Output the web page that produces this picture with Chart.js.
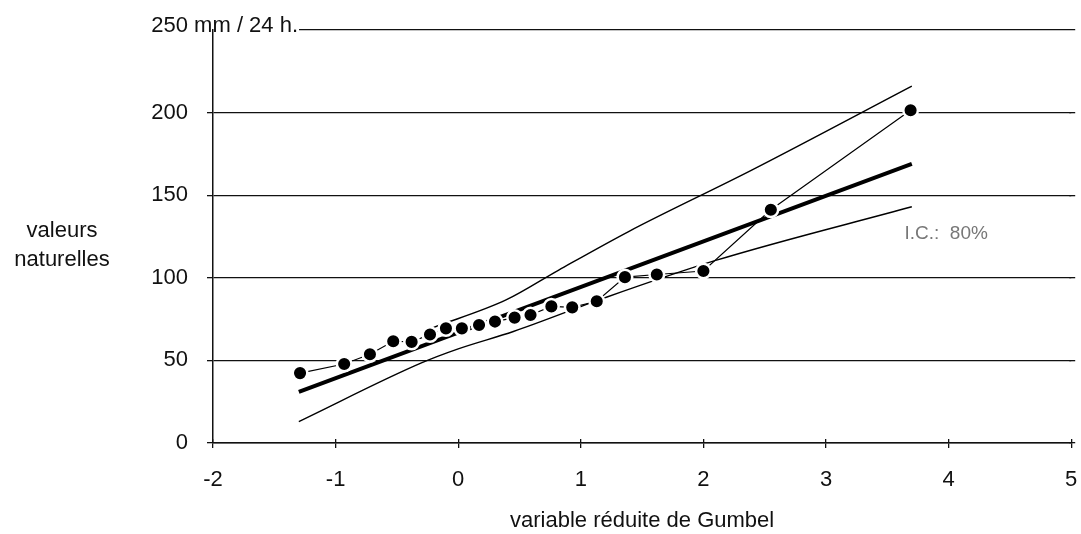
<!DOCTYPE html>
<html>
<head>
<meta charset="utf-8">
<script src="https://cdn.jsdelivr.net/npm/chart.js@4/dist/chart.umd.min.js"></script>
<style>
  html, body { margin: 0; padding: 0; background: #fff; }
  #wrap { width: 1081px; height: 534px; position: relative; }
</style>
</head>
<body>
<div id="wrap"><canvas id="c" width="1081" height="534"></canvas></div>
<script>
// --- Data ---
const gumbelX = [-1.29, -0.93, -0.72, -0.53, -0.38, -0.23, -0.10, 0.03, 0.17, 0.30,
                 0.46, 0.59, 0.76, 0.93, 1.13, 1.36, 1.62, 2.00, 2.55, 3.69];
const pluieY  = [42.3, 47.8, 53.7, 61.6, 61.2, 65.7, 69.4, 69.4, 71.4, 73.5,
                 75.9, 77.5, 82.7, 82.1, 85.8, 100.4, 102.0, 104.1, 141.2, 201.4];

const ajustX = [-1.3, 3.7];
const ajustY = [31, 169];

const icSupX = [-0.2, 0.39, 0.82, 1.39, 2.39, 3.7];
const icSupY = [70, 86.6, 104.7, 128, 165, 216];

const icInfX = [-1.3, -0.3, 0.0, 0.45, 1.2, 2.1, 3.7];
const icInfY = [13, 48.5, 57, 67.5, 88, 110.5, 143];

const xTicks = [-2, -1, 0, 1, 2, 3, 4, 5];
const yTicks = [0, 50, 100, 150, 200, 250];

const yTopLabel = '250 mm / 24 h.';
const yTitleLines = ['valeurs', 'naturelles'];
const xTitle = 'variable réduite de Gumbel';
const icLabel = 'I.C.:  80%';
const icLabelPos = { x: 3.64, y: 126.5 };

const pts = (xs, ys) => xs.map((x, i) => ({ x: x, y: ys[i] }));

const FONT = "'Liberation Sans', Arial, Helvetica, sans-serif";
Chart.defaults.font.family = FONT;
Chart.defaults.font.size = 22;
Chart.defaults.color = '#111';

const GRID_W = 1.3;
const alignPx = (p, w) => Math.round(p - w / 2) + w / 2;

const decor = {
  id: 'decor',
  afterDraw(chart) {
    const ctx = chart.ctx;
    const ys = chart.scales.y, xs = chart.scales.x;
    const ca = chart.chartArea;
    ctx.save();
    // y-axis title (horizontal, two lines)
    ctx.font = '22px ' + FONT;
    ctx.fillStyle = '#111';
    ctx.textAlign = 'center';
    ctx.textBaseline = 'middle';
    ctx.fillText(yTitleLines[0], 62, 231);
    ctx.fillText(yTitleLines[1], 62, 260);
    // top label replacing the 250 tick + its grid line
    const labelRight = ys.right - 6 - 19;
    const w200 = ctx.measureText('200').width;
    const lx = labelRight - w200;
    const py = ys.getPixelForValue(250);
    ctx.textAlign = 'left';
    ctx.textBaseline = 'alphabetic';
    ctx.fillText(yTopLabel, lx, py + 2);
    const tw = ctx.measureText(yTopLabel).width;
    ctx.strokeStyle = '#111';
    ctx.lineWidth = GRID_W;
    ctx.beginPath();
    ctx.moveTo(lx + tw + 1, alignPx(py, GRID_W));
    ctx.lineTo(ca.right + 4, alignPx(py, GRID_W));
    ctx.stroke();
    // extend the other horizontal grid lines slightly past the axis end, as in the scan
    [0, 50, 100, 150, 200].forEach(v => {
      const y = alignPx(ys.getPixelForValue(v), GRID_W);
      ctx.beginPath();
      ctx.moveTo(ca.right - 2, y);
      ctx.lineTo(ca.right + 4, y);
      ctx.stroke();
    });
    // small tick marks crossing the x axis upward
    xTicks.forEach(v => {
      const x = alignPx(xs.getPixelForValue(v), GRID_W);
      ctx.beginPath();
      ctx.moveTo(x, ca.bottom);
      ctx.lineTo(x, ca.bottom - 4);
      ctx.stroke();
    });
    // I.C. label
    ctx.font = '19px ' + FONT;
    ctx.fillStyle = '#777';
    ctx.textBaseline = 'middle';
    ctx.fillText(icLabel, xs.getPixelForValue(icLabelPos.x), ys.getPixelForValue(icLabelPos.y));
    ctx.restore();
  }
};

new Chart(document.getElementById('c'), {
  type: 'line',
  data: {
    datasets: [
      {
        label: 'valeurs observées',
        data: pts(gumbelX, pluieY),
        borderColor: '#000',
        borderWidth: 1.2,
        pointRadius: 7.3,
        pointBorderWidth: 2.5,
        pointBorderColor: '#fff',
        pointBackgroundColor: '#000',
        tension: 0
      },
      {
        label: 'ajustement',
        data: pts(ajustX, ajustY),
        borderColor: '#000',
        borderWidth: 4,
        pointRadius: 0
      },
      {
        label: 'I.C. sup',
        data: pts(icSupX, icSupY),
        borderColor: '#000',
        borderWidth: 1.4,
        pointRadius: 0,
        cubicInterpolationMode: 'monotone'
      },
      {
        label: 'I.C. inf',
        data: pts(icInfX, icInfY),
        borderColor: '#000',
        borderWidth: 1.4,
        pointRadius: 0,
        cubicInterpolationMode: 'monotone'
      }
    ]
  },
  options: {
    responsive: false,
    animation: false,
    layout: { padding: { top: 30, right: 7, bottom: 0, left: 0 } },
    plugins: { legend: { display: false }, tooltip: { enabled: false } },
    scales: {
      x: {
        type: 'linear',
        min: -2, max: 5,
        afterBuildTicks: (s) => { s.ticks = xTicks.map(v => ({ value: v })); },
        afterFit: (s) => { s.height = 91; s.paddingRight = 0; s.paddingLeft = 0; },
        ticks: { padding: 19, color: '#111', font: { size: 22 }, maxRotation: 0, autoSkip: false },
        grid: { drawOnChartArea: false, drawTicks: true, tickLength: 5, color: '#111', lineWidth: GRID_W },
        border: { display: true, color: '#111', width: 1.5 },
        title: { display: true, text: xTitle, color: '#111', font: { size: 22 }, padding: { top: 0, bottom: 0 } }
      },
      y: {
        type: 'linear',
        min: 0, max: 250,
        afterBuildTicks: (s) => { s.ticks = yTicks.map(v => ({ value: v })); },
        afterFit: (s) => { s.width = 213; s.paddingTop = 0; s.paddingBottom = 0; },
        ticks: {
          padding: 19, color: '#111', font: { size: 22 },
          callback: (v) => (v === 250 ? '' : String(v))
        },
        grid: {
          drawOnChartArea: true, drawTicks: true, tickLength: 6,
          color: (c) => (c.tick && c.tick.value === 250 ? 'rgba(0,0,0,0)' : '#111'),
          lineWidth: GRID_W
        },
        border: { display: true, color: '#111', width: 1.5 }
      }
    }
  },
  plugins: [decor]
});
</script>
</body>
</html>
